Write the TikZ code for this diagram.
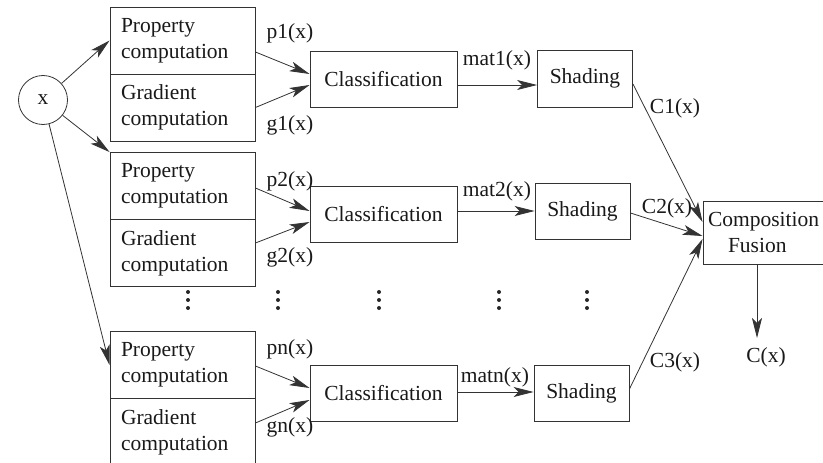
\documentclass[tikz,border=0pt]{standalone}
\usepackage{fontspec}
\setmainfont{Liberation Serif}
\usetikzlibrary{arrows.meta,calc}
\begin{document}
\begin{tikzpicture}[x=1pt,y=-1pt,
  every node/.style={font=\fontsize{21.5}{26}\selectfont, text=black!90},
  half/.style={draw=black!80, line width=0.9pt, rectangle, minimum width=145pt,
    minimum height=67pt, inner xsep=11pt, inner ysep=0pt, text width=123pt, align=left},
  stage/.style={draw=black!80, line width=0.9pt, rectangle, minimum height=56pt, inner sep=0pt},
  conn/.style={draw=black!80, line width=0.8pt},
  arr/.style={conn, -{Stealth[length=20pt,width=10pt,inset=5pt]}},
  lbl/.style={inner sep=0pt},
  vdot/.style={fill=black!85, circle, inner sep=0pt, minimum size=4pt}
]
\clip (0,0) rectangle (823,463);

% input
\node[draw=black!80, line width=0.8pt, circle, minimum size=49pt, inner sep=0pt] (x) at (43,100) {x};

% property / gradient blocks
\node[half] (prop1) at (182.5,40.5) {Property\\computation};
\node[half] (grad1) at (182.5,107.5) {Gradient\\computation};
\node[half] (prop2) at (182.5,186) {Property\\computation};
\node[half] (grad2) at (182.5,253) {Gradient\\computation};
\node[half] (prop3) at (182.5,365) {Property\\computation};
\node[half] (grad3) at (182.5,432) {Gradient\\computation};

% classification
\node[stage, minimum width=147pt] (class1) at (383.5,79.5) {Classification};
\node[stage, minimum width=147pt] (class2) at (383.5,214) {Classification};
\node[stage, minimum width=147pt] (class3) at (383.5,393) {Classification};

% shading
\node[stage, minimum width=95pt, minimum height=57pt] (shade1) at (585,78.5) {Shading};
\node[stage, minimum width=95pt] (shade2) at (582.5,211) {Shading};
\node[stage, minimum width=95pt] (shade3) at (581.5,393) {Shading};

% composition
\node[draw=black!80, line width=0.9pt, rectangle, minimum width=127pt, minimum height=63pt,
  inner xsep=5pt, inner ysep=0pt, text width=117pt, align=left] (comp) at (766.5,232.5)
  {Composition\\\hspace*{20pt}Fusion};

% input fan-out
\draw[arr] (x) -- (prop1.west);
\draw[arr] (x) -- (prop2.north west);
\draw[arr] (x) -- (prop3.west);

% property / gradient to classification
\draw[arr] ([yshift=-11.5pt]prop1.east) -- ([yshift=5.5pt]class1.west);
\draw[arr] (grad1.east) -- ([yshift=-5.5pt]class1.west);
\draw[arr] ([yshift=-2pt]prop2.east) -- ([yshift=3pt]class2.west);
\draw[arr] ([yshift=10pt]grad2.east) -- ([yshift=-8pt]class2.west);
\draw[arr] ([yshift=-1pt]prop3.east) -- ([yshift=5pt]class3.west);
\draw[arr] ([yshift=9pt]grad3.east) -- ([yshift=-7pt]class3.west);

% classification to shading
\draw[arr] ([yshift=-5.5pt]class1.east) -- ([yshift=-5.5pt]class1.east -| shade1.west);
\draw[arr] ([yshift=3pt]class2.east) -- ([yshift=3pt]class2.east -| shade2.west);
\draw[arr] ([yshift=1pt]class3.east) -- ([yshift=1pt]class3.east -| shade3.west);

% shading to composition
\draw[arr] ([yshift=-5.5pt]shade1.east) -- ([yshift=10.5pt]comp.west);
\draw[arr] ([yshift=-2pt]shade2.east) -- ([yshift=-3.5pt]comp.west);
\draw[arr] ([yshift=4pt]shade3.east) -- ([yshift=-6.5pt]comp.west);

% output
\coordinate (cout) at (757,338);
\draw[arr] (comp.south -| cout) -- (cout);
\node[lbl] (cx) at (766,357) {C(x)};

% signal labels
\node[lbl] at (290,33) {p1(x)};
\node[lbl] at (290,125) {g1(x)};
\node[lbl] at (290,181) {p2(x)};
\node[lbl] at (290,257) {g2(x)};
\node[lbl] at (290,349) {pn(x)};
\node[lbl] at (290,427) {gn(x)};
\node[lbl] at (497,60) {mat1(x)};
\node[lbl] at (497,191) {mat2(x)};
\node[lbl] at (495,377) {matn(x)};
\node[lbl] at (675,108) {C1(x)};
\node[lbl] at (667,208) {C2(x)};
\node[lbl] at (675,362) {C3(x)};

% vertical ellipses
\foreach \px in {188,278,379,499,587}
  \foreach \py in {292,300,308}
    \node[vdot] at (\px,\py) {};
\end{tikzpicture}
\end{document}
